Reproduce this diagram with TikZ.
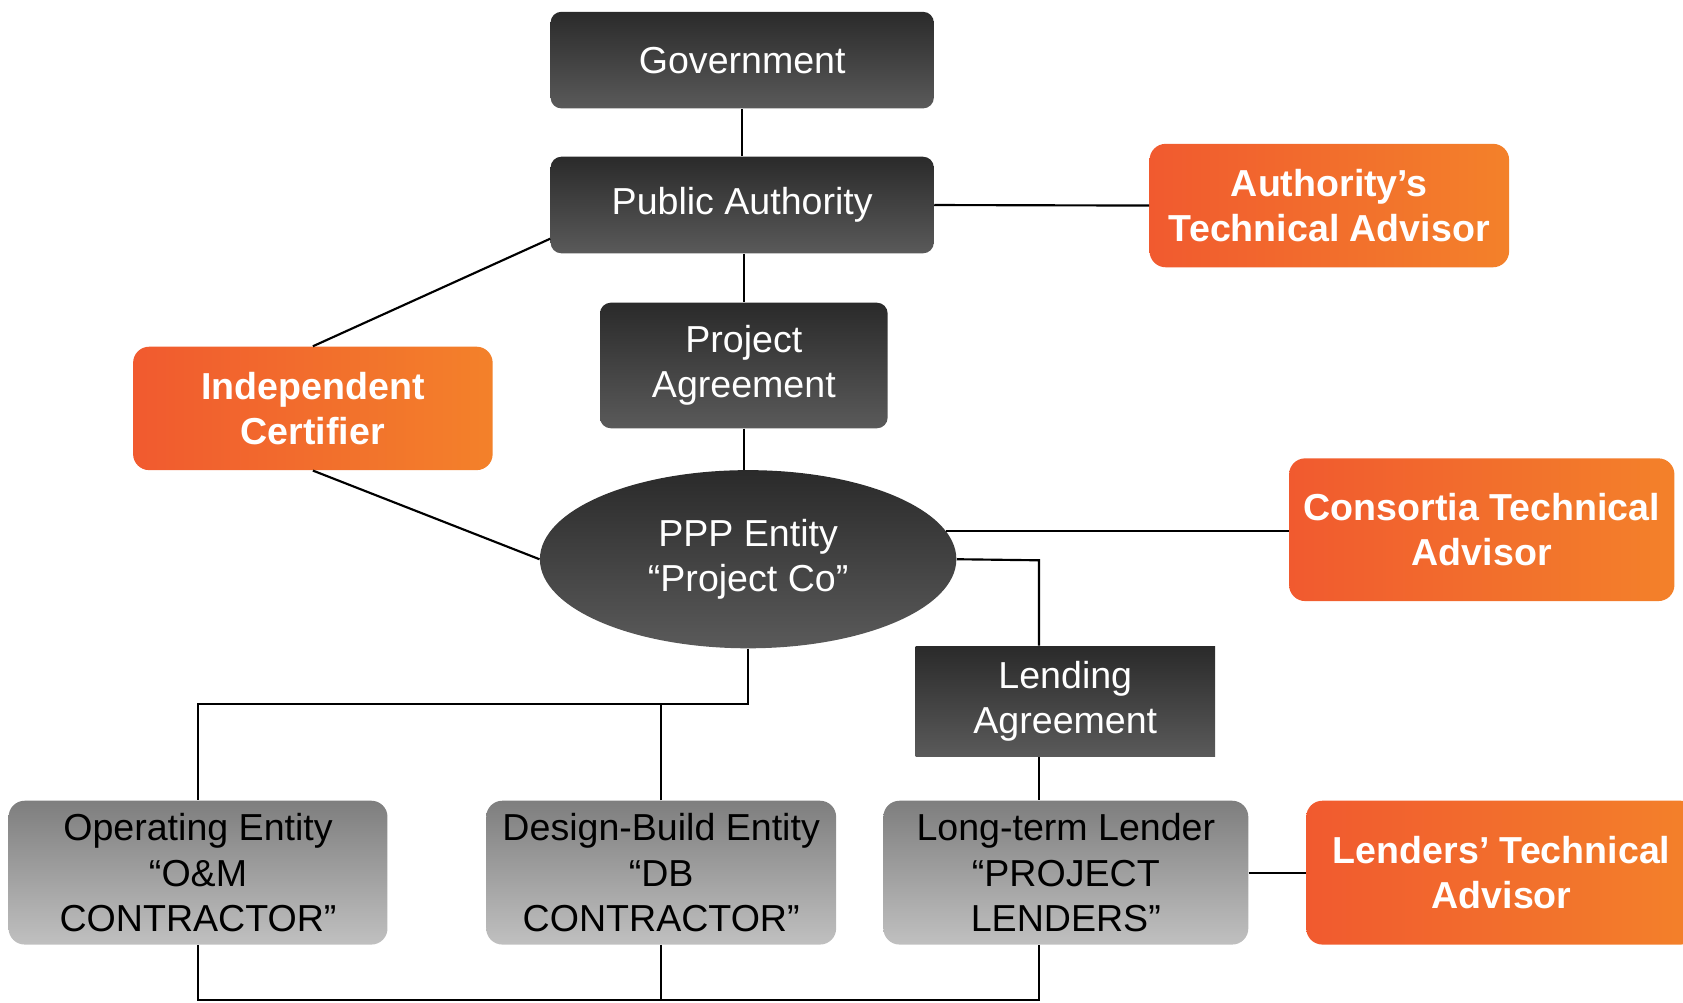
\documentclass[tikz,border=0pt]{standalone}
\usepackage{fontspec}
\setmainfont{Liberation Sans}
\usetikzlibrary{shapes.geometric}
\definecolor{dkTop}{HTML}{2A2A2A}
\definecolor{dkBot}{HTML}{5A5A5A}
\definecolor{grTop}{HTML}{7E7E7E}
\definecolor{grBot}{HTML}{C0C0C0}
\definecolor{orL}{HTML}{F15A2F}
\definecolor{orR}{HTML}{F3812A}
\begin{document}
\begin{tikzpicture}[x=0.5pt,y=-0.5pt,
  base/.style={inner sep=0pt, align=center, font=\fontsize{17.5}{21}\selectfont},
  darkbox/.style={base, rounded corners=5pt, top color=dkTop, bottom color=dkBot, text=white},
  lendbox/.style={base, top color=dkTop, bottom color=dkBot, text=white},
  graybox/.style={base, rounded corners=7.5pt, top color=grTop, bottom color=grBot, text=black},
  orangebox/.style={base, rounded corners=7.5pt, left color=orL, right color=orR, text=white, font=\fontsize{17.5}{21}\selectfont\bfseries},
  ent/.style={base, ellipse, top color=dkTop, bottom color=dkBot, text=white},
  link/.style={draw=black, line width=1pt}]
\useasboundingbox (0,0) rectangle (1568,934);

\node[darkbox, minimum width=178.5pt, minimum height=45pt] (gov) at (691.5,56) {\raisebox{-1.5pt}{Government}};
\node[darkbox, minimum width=178.5pt, minimum height=45pt] (pa) at (691.5,191) {\raisebox{-1.5pt}{Public Authority}};
\node[darkbox, minimum width=134pt, minimum height=58.5pt] (pag) at (693,340.5) {Project\\Agreement};
\node[orangebox, minimum width=167.5pt, minimum height=57.5pt] (ic) at (291.5,380.5) {Independent\\Certifier};
\node[orangebox, minimum width=167.5pt, minimum height=57.5pt] (ata) at (1238.5,191.5) {Authority’s\\Technical Advisor};
\node[ent, minimum width=194pt, minimum height=83pt] (pp) at (697,521) {\raisebox{-2pt}{PPP Entity}\\\raisebox{-2pt}{“Project Co”}};
\node[orangebox, minimum width=179.5pt, minimum height=66.5pt] (cta) at (1380.5,493.5) {Consortia Technical\\Advisor};
\node[lendbox, minimum width=139.5pt, minimum height=51.5pt] (la) at (992.5,653.5) {Lending\\Agreement};
\node[graybox, minimum width=176.5pt, minimum height=67pt] (om) at (184.5,813) {Operating Entity\\“O\&M\\CONTRACTOR”};
\node[graybox, minimum width=163pt, minimum height=67pt] (db) at (616,813) {Design-Build Entity\\“DB\\CONTRACTOR”};
\node[graybox, minimum width=170pt, minimum height=67pt] (lt) at (993,813) {Long-term Lender\\“PROJECT\\LENDERS”};
\node[orangebox, minimum width=182pt, minimum height=67pt] (lta) at (1399,813) {Lenders’ Technical\\Advisor};

\coordinate (lx) at (968,522);
\coordinate (j1) at (697,656);
\coordinate (j2) at (697,932);

\draw[link] (gov.south) -- (pa.north);
\draw[link] (pa.east) -- (ata.west);
\draw[link] (pag.north |- pa.south) -- (pag.north);
\draw[link] ([yshift=7pt]pa.south west) -- (ic.north);
\draw[link] (ic.south) -- (pp.west);
\draw[link] (pag.south) -- (pag.south |- pp.north);
\draw[link] (pp.8.7) -- (pp.8.7 -| cta.west);
\draw[link] (pp.east) -- (lx) -- (lx |- la.north);
\draw[link] (lx |- la.south) -- (lx |- lt.north);
\draw[link] (lt.east) -- (lta.west);
\draw[link] (pp.south) -- (j1) -| (om.north);
\draw[link] (db.north) -- (db.north |- j1);
\draw[link] (om.south) -- (om.south |- j2) -- (lx |- j2) -- (lx |- lt.south);
\draw[link] (db.south) -- (db.south |- j2);
\end{tikzpicture}
\end{document}
